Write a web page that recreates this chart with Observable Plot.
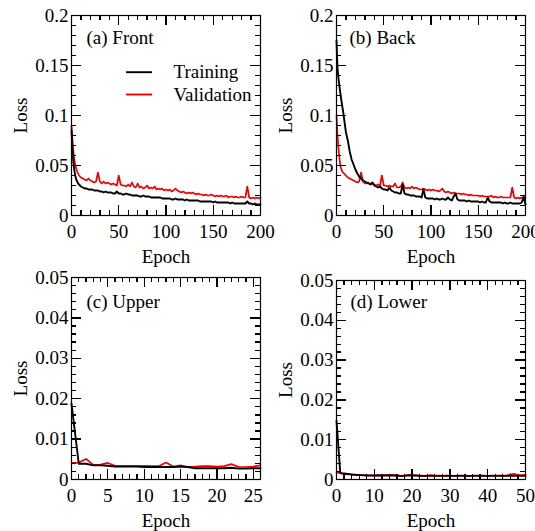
<!DOCTYPE html>
<html><head><meta charset="utf-8">
<script src="https://cdn.jsdelivr.net/npm/d3@7"></script>
<script src="https://cdn.jsdelivr.net/npm/@observablehq/plot@0.6"></script>
<style>
body{margin:0;background:#fff;}
#root{position:relative;width:535px;height:531px;overflow:hidden;background:#fff;}
#root > svg{position:absolute;}
</style></head><body><div id="root"></div>
<script>
// ---------- data ----------
const topEpochs = [0,1,2,3,4,5,6,7,8,9,10,
  12,14,16,18,20,22,24,26,28,30,
  32,34,36,38,40,42,44,46,48,50,
  52,54,56,58,60,62,64,66,68,70,
  72,74,76,78,80,82,84,86,88,90,
  92,94,96,98,100,102,104,106,108,110,
  112,114,116,118,120,122,124,126,128,130,
  132,134,136,138,140,142,144,146,148,150,
  152,154,156,158,160,162,164,166,168,170,
  172,174,176,178,180,182,184,186,188,190,
  192,194,196,198,200];

const frontTrain = [0.085,0.066,0.053,0.045,0.040,0.036,0.034,0.032,0.031,0.030,0.029,
  0.028,0.027,0.027,0.026,0.026,0.026,0.025,0.025,0.025,0.024,
  0.024,0.023,0.024,0.023,0.023,0.023,0.022,0.022,0.024,0.022,
  0.022,0.021,0.021,0.022,0.021,0.021,0.020,0.020,0.020,0.020,
  0.019,0.019,0.020,0.019,0.019,0.019,0.018,0.018,0.018,0.018,
  0.018,0.018,0.017,0.017,0.017,0.017,0.017,0.016,0.016,0.017,
  0.016,0.016,0.016,0.016,0.015,0.016,0.015,0.015,0.015,0.015,
  0.015,0.015,0.014,0.014,0.014,0.014,0.014,0.014,0.014,0.013,
  0.014,0.013,0.013,0.013,0.013,0.013,0.013,0.013,0.012,0.013,
  0.012,0.012,0.012,0.012,0.012,0.012,0.012,0.014,0.012,0.012,
  0.011,0.012,0.011,0.011,0.011];

const frontVal = [0.090,0.076,0.064,0.056,0.050,0.047,0.044,0.042,0.040,0.039,0.038,
  0.037,0.036,0.035,0.037,0.035,0.034,0.033,0.034,0.043,0.034,
  0.032,0.034,0.032,0.033,0.032,0.031,0.032,0.031,0.030,0.040,
  0.031,0.030,0.030,0.029,0.031,0.029,0.033,0.029,0.028,0.032,
  0.028,0.029,0.027,0.028,0.030,0.027,0.028,0.027,0.029,0.026,
  0.027,0.026,0.027,0.025,0.026,0.025,0.026,0.024,0.025,0.027,
  0.025,0.024,0.023,0.024,0.023,0.022,0.023,0.022,0.023,0.022,
  0.021,0.022,0.021,0.021,0.020,0.021,0.020,0.020,0.021,0.020,
  0.019,0.020,0.019,0.020,0.019,0.019,0.020,0.018,0.019,0.019,
  0.018,0.019,0.018,0.018,0.019,0.018,0.018,0.029,0.018,0.017,
  0.018,0.017,0.018,0.017,0.018];

const backTrain = [0.175,0.148,0.138,0.130,0.123,0.116,0.110,0.104,0.097,0.090,0.083,
  0.075,0.064,0.056,0.051,0.046,0.042,0.039,0.037,0.035,0.034,
  0.033,0.032,0.031,0.033,0.030,0.029,0.028,0.029,0.027,0.026,
  0.026,0.025,0.028,0.025,0.024,0.023,0.023,0.022,0.022,0.031,
  0.022,0.021,0.021,0.020,0.020,0.020,0.019,0.019,0.019,0.018,
  0.026,0.018,0.017,0.017,0.017,0.017,0.016,0.017,0.016,0.016,
  0.017,0.016,0.016,0.018,0.016,0.015,0.019,0.022,0.016,0.015,
  0.015,0.015,0.015,0.014,0.015,0.014,0.014,0.014,0.014,0.014,
  0.013,0.014,0.013,0.013,0.018,0.014,0.013,0.013,0.013,0.013,
  0.013,0.013,0.012,0.013,0.012,0.012,0.013,0.012,0.012,0.012,
  0.012,0.012,0.013,0.019,0.011];

const backVal = [0.100,0.082,0.068,0.058,0.050,0.047,0.044,0.043,0.042,0.041,0.040,
  0.038,0.037,0.036,0.035,0.034,0.033,0.034,0.043,0.034,0.032,
  0.032,0.033,0.031,0.032,0.031,0.030,0.031,0.030,0.040,0.030,
  0.030,0.029,0.030,0.029,0.029,0.032,0.028,0.028,0.029,0.033,
  0.028,0.027,0.028,0.027,0.029,0.027,0.028,0.027,0.026,0.026,
  0.027,0.026,0.025,0.026,0.025,0.026,0.025,0.025,0.024,0.025,
  0.027,0.024,0.023,0.024,0.023,0.022,0.023,0.022,0.022,0.022,
  0.021,0.022,0.021,0.021,0.020,0.021,0.020,0.020,0.020,0.020,
  0.019,0.020,0.019,0.019,0.019,0.019,0.020,0.018,0.019,0.018,
  0.018,0.019,0.018,0.018,0.018,0.018,0.018,0.028,0.018,0.017,
  0.018,0.017,0.018,0.017,0.018];

const upperEpochs = [0,1,2,3,4,5,6,7,8,9,10,11,12,13,14,15,16,17,18,19,20,21,22,23,24,25,26];
const upperTrain = [0.0188,0.0039,0.0039,0.0035,0.0035,0.0034,0.0032,0.0032,0.0032,0.0032,0.0031,0.0031,0.0031,0.0031,0.0031,0.0032,0.0031,0.0028,0.0028,0.0028,0.0028,0.0028,0.0029,0.0027,0.0027,0.0028,0.0028];
const upperVal = [0.0041,0.0042,0.0051,0.0036,0.0037,0.0041,0.0034,0.0033,0.0033,0.0033,0.0034,0.0033,0.0033,0.0042,0.0032,0.0035,0.0031,0.0032,0.0033,0.0033,0.0032,0.0033,0.0038,0.0031,0.0031,0.0032,0.0035];

const lowerEpochs = [0,1,2,3,4,5,6,7,8,9,10,11,12,13,14,15,16,17,18,19,20,21,22,23,24,25,26,27,28,29,30,31,32,33,34,35,36,37,38,39,40,41,42,43,44,45,46,47,48,49,50];
const lowerTrain = [0.0148,0.0016,0.0015,0.0014,0.0013,0.0012,0.0011,0.0011,0.0010,0.0010,0.0010,0.0010,0.0010,0.0010,0.0010,0.0010,0.0010,0.0009,0.0009,0.0010,0.0010,0.0010,0.0009,0.0009,0.0009,0.0009,0.0009,0.0009,0.0009,0.0009,0.0009,0.0009,0.0009,0.0009,0.0009,0.0009,0.0009,0.0009,0.0009,0.0009,0.0009,0.0009,0.0009,0.0009,0.0009,0.0009,0.0009,0.0009,0.0009,0.0009,0.0009];
const lowerVal = [0.0018,0.0016,0.0014,0.0013,0.0012,0.0011,0.0011,0.0010,0.0010,0.0010,0.0010,0.0011,0.0010,0.0011,0.0012,0.0011,0.0010,0.0009,0.0010,0.0012,0.0011,0.0010,0.0010,0.0009,0.0010,0.0011,0.0010,0.0010,0.0009,0.0010,0.0010,0.0009,0.0010,0.0010,0.0010,0.0009,0.0010,0.0010,0.0010,0.0010,0.0009,0.0010,0.0010,0.0010,0.0010,0.0010,0.0013,0.0014,0.0011,0.0011,0.0012];

const topXTicks = [0,50,100,150,200];
const topYTicks = [0,0.05,0.1,0.15,0.2];
const upperXTicks = [0,5,10,15,20,25];
const lowerXTicks = [0,10,20,30,40,50];
const bottomYTicks = [0,0.01,0.02,0.03,0.04,0.05];
const titles = ["(a) Front","(b) Back","(c) Upper","(d) Lower"];
const seriesNames = ["Training","Validation"];
const xLabel = "Epoch", yLabel = "Loss";

// ---------- drawing ----------
const FONT = "'Liberation Serif','Times New Roman',serif";
const root = document.getElementById("root");

function panel(o) {
  const trainRows = o.epochs.map((e,i)=>({epoch:e, loss:o.train[i]}));
  const valRows = o.epochs.map((e,i)=>({epoch:e, loss:o.val[i]}));
  const fmt = d => String(d);
  const ph = o.height - o.mt - o.mb;
  const pw = o.width - 71 - o.mr;
  const [x0, x1] = o.xDomain, [y0, y1] = o.yDomain;
  const kx = (x1 - x0) / pw, ky = (y1 - y0) / ph;
  const tickStyle = {stroke:"black", strokeWidth:1.3, shapeRendering:"crispEdges"};
  const tickMarks = [];
  [[o.xMinor,5],[o.xMajor,10]].forEach(([t,s]) => {
    tickMarks.push(Plot.ruleX(t, {x:d=>d, y1:y0, y2:y0 + s*ky, ...tickStyle}));
    tickMarks.push(Plot.ruleX(t, {x:d=>d, y1:y1 - s*ky, y2:y1, ...tickStyle}));
  });
  [[o.yMinor,5],[o.yMajor,10]].forEach(([t,s]) => {
    tickMarks.push(Plot.ruleY(t, {y:d=>d, x1:x0, x2:x0 + s*kx, ...tickStyle}));
    tickMarks.push(Plot.ruleY(t, {y:d=>d, x1:x1 - s*kx, x2:x1, ...tickStyle}));
  });
  const marks = [
    Plot.line(valRows, {x:"epoch", y:"loss", stroke:"#f00000", strokeWidth:1.7}),
    Plot.line(trainRows, {x:"epoch", y:"loss", stroke:"black", strokeWidth:1.9}),
    ...tickMarks,
    Plot.axisX(o.xMajor, {anchor:"bottom", tickSize:0, tickPadding:9, tickFormat:fmt, label:xLabel, labelAnchor:"center", labelOffset:47, labelArrow:"none"}),
    Plot.axisY(o.yMajor, {anchor:"left", tickSize:0, tickPadding:3, tickFormat:fmt, label:yLabel, labelAnchor:"center", labelOffset:58, labelArrow:"none"}),
    Plot.frame({stroke:"black", strokeWidth:1.2}),
    Plot.text([o.title], {frameAnchor:"top-left", dx:o.tdx, dy:o.tdy, lineAnchor:"middle", textAnchor:"start", fontSize:19})
  ];
  if (o.legend) {
    o.legend.forEach((name, i) => {
      const col = i === 0 ? "black" : "#f00000";
      marks.push(Plot.ruleY([y1], {x1:x0 + 55*kx, x2:x0 + 81*kx, dy:56.7 + i*22.3, stroke:col, strokeWidth:1.9}));
      marks.push(Plot.text([name], {frameAnchor:"top-left", dx:102, dy:56.7 + i*22.3, lineAnchor:"middle", textAnchor:"start", fontSize:19}));
    });
  }
  const svg = Plot.plot({
    width:o.width, height:o.height,
    marginTop:o.mt, marginBottom:o.mb, marginLeft:71, marginRight:o.mr,
    style:{fontFamily:FONT, fontSize:"19px", background:"transparent", color:"black", overflow:"visible"},
    x:{domain:o.xDomain},
    y:{domain:o.yDomain},
    marks
  });
  svg.style.left = o.left + "px";
  svg.style.top = o.top + "px";
  root.appendChild(svg);
}

const range = (a,b,s) => d3.range(a, b + s/2, s);

panel({epochs:topEpochs, train:frontTrain, val:frontVal, xDomain:[0,200], yDomain:[0,0.2],
  xMajor:topXTicks, xMinor:range(0,200,10), yMajor:topYTicks, yMinor:range(0,0.2,0.01),
  title:titles[0], left:0, top:0, width:267, height:270, mt:15, mb:55, mr:7, tdx:15, tdy:22, legend:seriesNames});
panel({epochs:topEpochs, train:backTrain, val:backVal, xDomain:[0,200], yDomain:[0,0.2],
  xMajor:topXTicks, xMinor:range(0,200,10), yMajor:topYTicks, yMinor:range(0,0.2,0.01),
  title:titles[1], left:265, top:0, width:270, height:270, mt:15, mb:55, mr:10, tdx:13, tdy:22});
panel({epochs:upperEpochs, train:upperTrain, val:upperVal, xDomain:[0,26], yDomain:[0,0.05],
  xMajor:upperXTicks, xMinor:range(0,26,1), yMajor:bottomYTicks, yMinor:range(0,0.05,0.002),
  title:titles[2], left:0, top:262, width:267, height:269, mt:15, mb:52, mr:7, tdx:15, tdy:24.5});
panel({epochs:lowerEpochs, train:lowerTrain, val:lowerVal, xDomain:[0,50], yDomain:[0,0.05],
  xMajor:lowerXTicks, xMinor:range(0,50,2), yMajor:bottomYTicks, yMinor:range(0,0.05,0.002),
  title:titles[3], left:265, top:262, width:270, height:269, mt:18, mb:52, mr:10, tdx:14, tdy:21.5});
</script></body></html>
